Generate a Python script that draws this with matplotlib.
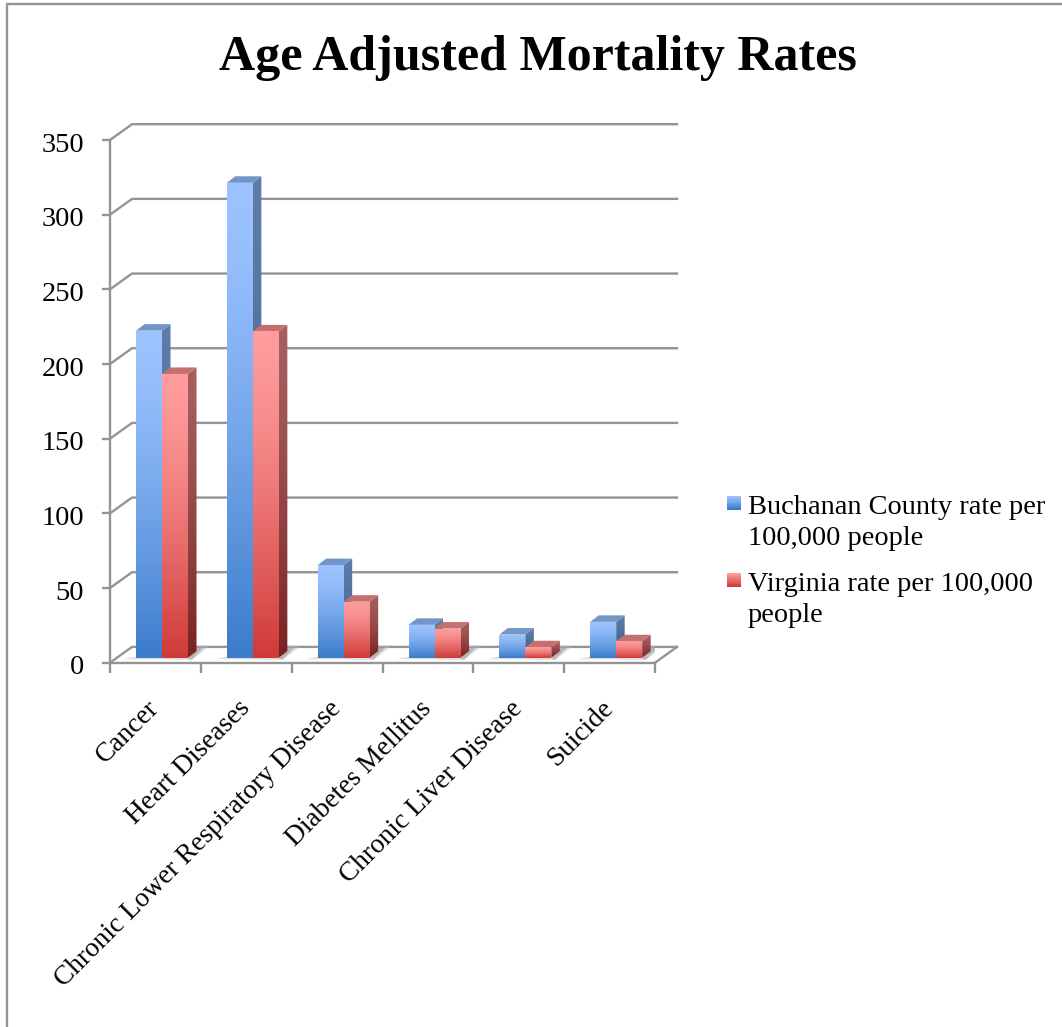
import matplotlib
matplotlib.use("Agg")
import matplotlib.pyplot as plt
import numpy as np
from matplotlib.colors import LinearSegmentedColormap
from matplotlib.patches import Polygon, Rectangle
from matplotlib.legend_handler import HandlerBase
from matplotlib.lines import Line2D
from matplotlib.transforms import ScaledTranslation

categories = ["Cancer", "Heart Diseases", "Chronic Lower Respiratory Disease",
              "Diabetes Mellitus", "Chronic Liver Disease", "Suicide"]
buchanan = [219, 318, 62, 22, 15.5, 24]
virginia = [190, 218.5, 37.5, 19.5, 7, 11]
series_names = ["Buchanan County rate per\n100,000 people", "Virginia rate per 100,000\npeople"]
yticks = [0, 50, 100, 150, 200, 250, 300, 350]

W, H = 1062, 1027
FONT = "Liberation Serif"
plt.rcParams["font.family"] = FONT
fig = plt.figure(figsize=(W / 100, H / 100), dpi=100, facecolor="white")
L, R, B, T = 110, 655, 662.7, 140
ax = fig.add_axes([L / W, 1 - B / H, (R - L) / W, (B - T) / H])
ax.set_xlim(0, 6)
ax.set_ylim(0, 350)
ax.patch.set_visible(False)
pxx = 6 / (R - L)
pxy = 350 / (B - T)
GREY = "#949494"
LW = 1.7
dx, dy = 22 * pxx, 15.8 * pxy

for s in ("top", "right"):
    ax.spines[s].set_visible(False)
for s in ("left", "bottom"):
    ax.spines[s].set_color(GREY)
    ax.spines[s].set_linewidth(LW)
    ax.spines[s].set_zorder(1)

# back wall gridlines + floor
for v in yticks:
    ax.plot([0, dx, 6 + dx], [v, v + dy, v + dy], color=GREY, lw=LW, clip_on=False, zorder=1,
            solid_joinstyle="miter")
ax.plot([6, 6 + dx], [0, dy], color=GREY, lw=LW, clip_on=False, zorder=1)

ax.set_yticks(yticks)
ax.set_xticks(range(7))
ax.set_xticklabels([])
ax.tick_params(axis="both", which="major", color=GREY, width=LW, length=5.5, labelsize=20.5,
               labelcolor="black")
ax.tick_params(axis="x", which="major", length=7)
ax.tick_params(axis="y", pad=13)
yshift = ScaledTranslation(0, -2 / 100, fig.dpi_scale_trans)
for lab in ax.get_yticklabels():
    lab.set_transform(lab.get_transform() + yshift)
ax.set_xticks(np.arange(6) + 0.5, minor=True)
ax.set_xticklabels(categories, minor=True, rotation=45, ha="right", va="top",
                   rotation_mode="anchor", fontsize=19.7)
ax.tick_params(axis="x", which="minor", length=0, pad=24)
shift = ScaledTranslation(-9 / 100, 0, fig.dpi_scale_trans)
for lab in ax.get_xticklabels(minor=True):
    lab.set_transform(lab.get_transform() + shift)


def grad_poly(verts, c_top, c_bot, z):
    xs, ys = zip(*verts)
    cmap = LinearSegmentedColormap.from_list("g", [c_top, c_bot])
    g = np.linspace(0, 1, 128).reshape(-1, 1) ** 1.4
    im = ax.imshow(g, extent=[min(xs), max(xs), min(ys), max(ys)], origin="upper", aspect="auto",
                   cmap=cmap, vmin=0, vmax=1, zorder=z, interpolation="bilinear")
    im.set_clip_path(Polygon(verts, closed=True, transform=ax.transData))


bw = 26 * pxx
sx, base = 6.6 * pxx, 3.35
cdx, cdy = 8.5 * pxx, 6.5 * pxy
STYLES = [
    dict(top="#9cc3ff", bot="#3b7ccb", st="#5f7ca8", sb="#2a5288", cap="#7296c8"),
    dict(top="#ff9c9c", bot="#cf3a38", st="#a65e5e", sb="#7a2222", cap="#c47070"),
]
z = 3
for i in range(6):
    x0 = i + 0.5 + sx - bw
    # floor shadow
    ax.add_patch(Polygon([(x0 - 12 * pxx, base - 1), (x0 + 2 * bw + 4 * pxx, base - 1.5),
                          (x0 + 2 * bw + 22 * pxx, base + 8), (x0 + 2 * bw, base + 8)],
                         closed=True, fc="#b8b8b8", ec="none", alpha=0.45, zorder=2))
    ax.add_patch(Polygon([(x0 + 2 * bw, base - 1), (x0 + 2 * bw + 4 * pxx, base - 1),
                          (x0 + 2 * bw + 16 * pxx, base + 7), (x0 + 2 * bw + 8 * pxx, base + 7)],
                         closed=True, fc="#909090", ec="none", alpha=0.5, zorder=2))
    for j, vals in enumerate((buchanan, virginia)):
        s = STYLES[j]
        xl, xr = x0 + j * bw, x0 + (j + 1) * bw
        yt = base + vals[i]
        grad_poly([(xr, base), (xr + cdx, base + cdy), (xr + cdx, yt + cdy), (xr, yt)], s["st"], s["sb"], z)
        ax.add_patch(Polygon([(xl, yt), (xr, yt), (xr + cdx, yt + cdy), (xl + cdx, yt + cdy)],
                             closed=True, fc=s["cap"], ec="none", zorder=z + 0.1))
        grad_poly([(xl, base), (xr, base), (xr, yt), (xl, yt)], s["top"], s["bot"], z + 0.2)
        z += 1
ax.set_xlim(0, 6)
ax.set_ylim(0, 350)

fig.text(537.5 / W, 1 - 58 / H, "Age Adjusted Mortality Rates", ha="center", va="center",
         fontsize=36, fontweight="bold", color="black")


class GradHandle:
    def __init__(self, top, bot):
        self.top, self.bot = top, bot


class GradHandler(HandlerBase):
    def create_artists(self, legend, h, xd, yd, w, hh, fs, trans):
        cmap = LinearSegmentedColormap.from_list("g", [h.top, h.bot])
        n = 10
        side = 10.0
        y0 = yd + hh - side + 1 + 10.8
        return [Rectangle((-xd + w - side, y0 + side * (n - 1 - k) / n), side, side / n + 0.05,
                          fc=cmap(k / (n - 1)), ec="none", transform=trans) for k in range(n)]


handles = [GradHandle(STYLES[j]["top"], STYLES[j]["bot"]) for j in range(2)]
leg = fig.legend(handles, series_names, handler_map={GradHandle: GradHandler()},
                 loc="upper left", bbox_to_anchor=(727 / W, 1 - 495 / H), frameon=False,
                 borderpad=0, borderaxespad=0, fontsize=20.4, labelspacing=0.77,
                 handlelength=0.49, handletextpad=0.25, alignment="left")
for t in leg.get_texts():
    t.set_linespacing(1.29)

# outer frame
fig.add_artist(Line2D([6.5 / W, 6.5 / W, 1], [0, 1 - 4 / H, 1 - 4 / H], color=GREY, lw=LW,
                      transform=fig.transFigure, solid_joinstyle="miter"))

fig.savefig("out.png", dpi=100, facecolor="white")
